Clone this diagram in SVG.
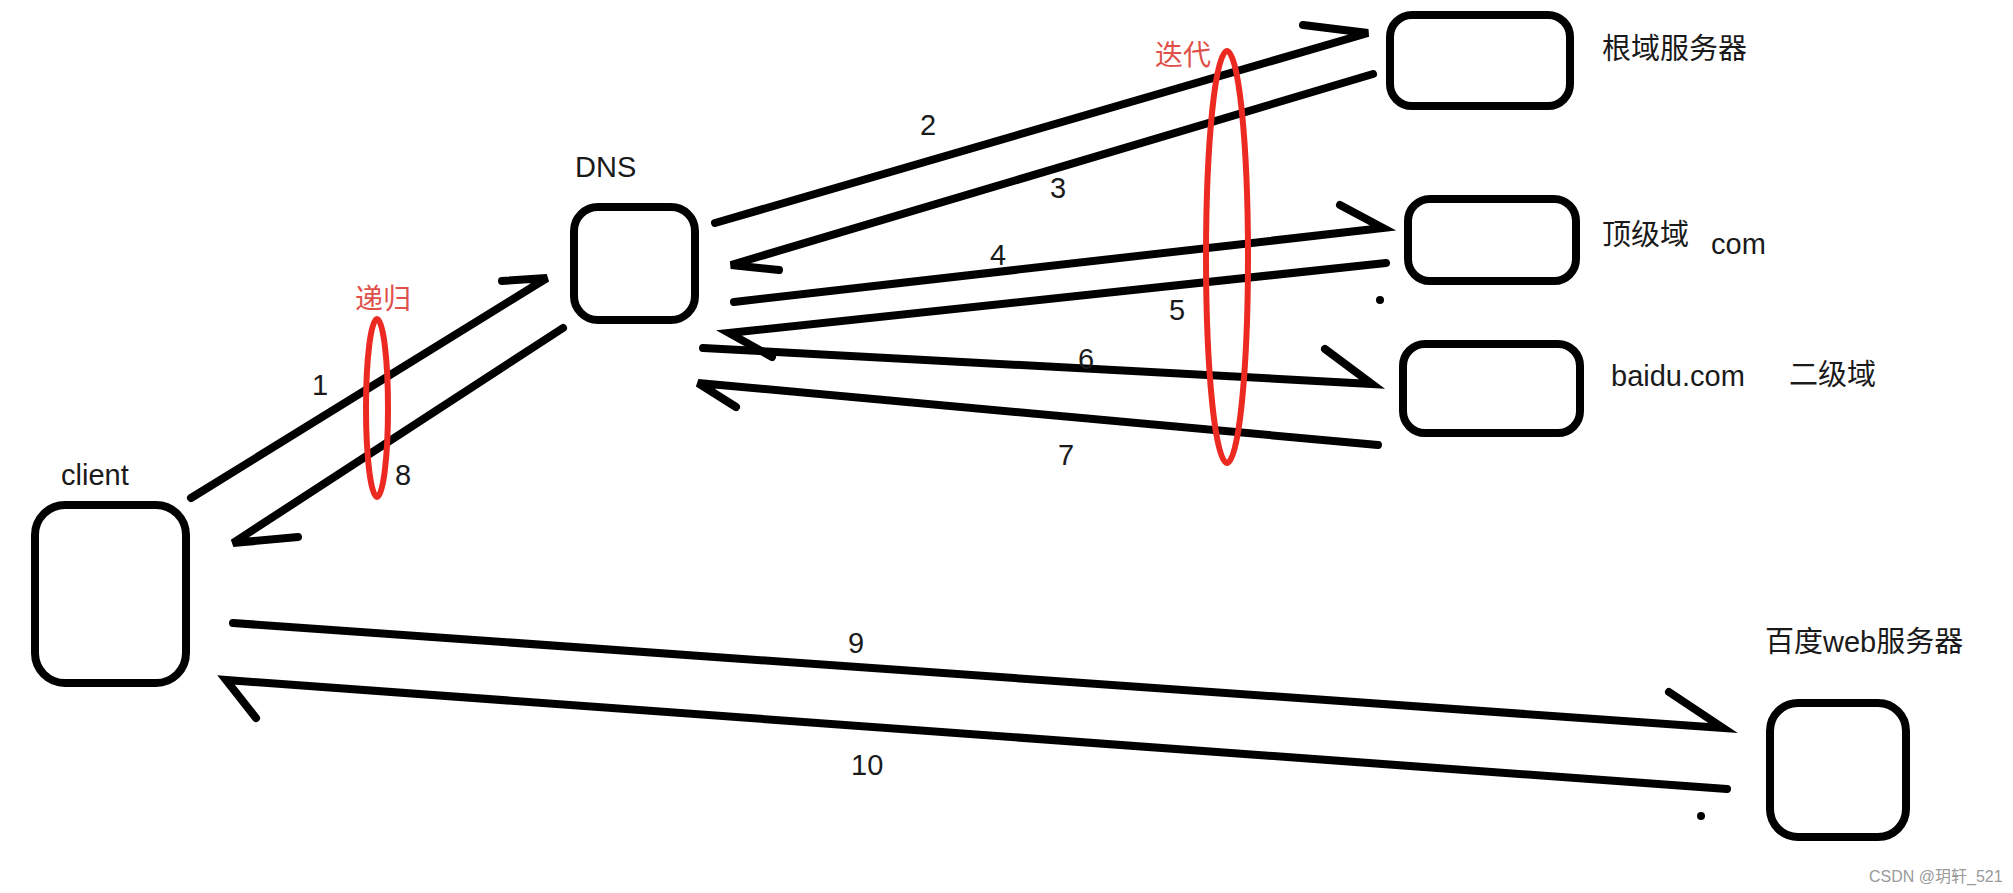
<svg xmlns="http://www.w3.org/2000/svg" width="2013" height="893" viewBox="0 0 2013 893">
<style>
.box{fill:none;stroke:#000;stroke-width:8}
.ln{fill:none;stroke:#000;stroke-width:8;stroke-linejoin:miter;stroke-linecap:round}
.t{font-family:"Liberation Sans","Noto Sans CJK SC",sans-serif;font-size:29px;fill:#1a1a1a}
.r{font-family:"Liberation Sans","Noto Sans CJK SC",sans-serif;font-size:28px;fill:#e0504a}
.ov{fill:none;stroke:#ec2a22;stroke-width:6}
.wm{font-family:"Liberation Sans","Noto Sans CJK SC",sans-serif;font-size:16px;fill:#9a9a9a}
</style>
<rect width="2013" height="893" fill="#fff"/>
<g id="client"><rect class="box" x="35" y="505" width="151" height="178" rx="30"/><text class="t" x="61" y="485">client</text></g>
<g id="dns"><rect class="box" x="574" y="207" width="121" height="113" rx="24"/><text class="t" x="575" y="177">DNS</text></g>
<g id="root"><rect class="box" x="1390" y="15" width="180" height="91" rx="22"/><text class="t" x="1602" y="59">根域服务器</text></g>
<g id="tld"><rect class="box" x="1408" y="199" width="168" height="82" rx="22"/><text class="t" x="1602" y="245">顶级域</text><text class="t" x="1711" y="254">com</text></g>
<g id="second"><rect class="box" x="1403" y="344" width="177" height="89" rx="22"/><text class="t" x="1611" y="386">baidu.com</text><text class="t" x="1789" y="385">二级域</text></g>
<g id="web"><rect class="box" x="1770" y="703" width="136" height="134" rx="28"/><text class="t" x="1765" y="652">百度web服务器</text></g>
<g id="connectors">
<polyline class="ln" points="191,498 547,278 502,281"/>
<polyline class="ln" points="563,328 233,543 298,537"/>
<polyline class="ln" points="715,223 1368,33 1303,25"/>
<polyline class="ln" points="1373,74 731,265 779,270"/>
<polyline class="ln" points="734,302 1383,228 1340,205"/>
<polyline class="ln" points="1386,263 729,333 772,357"/>
<polyline class="ln" points="703,348 1372,384 1325,349"/>
<polyline class="ln" points="1378,445 698,383 736,407"/>
<polyline class="ln" points="233,623 1723,728 1669,692"/>
<polyline class="ln" points="1727,789 226,680 256,718"/>
<circle cx="1380" cy="300" r="4" fill="#000"/>
<circle cx="1701" cy="816" r="4" fill="#000"/>
<text class="t" x="312" y="395">1</text>
<text class="t" x="920" y="135">2</text>
<text class="t" x="1050" y="198">3</text>
<text class="t" x="990" y="265">4</text>
<text class="t" x="1169" y="320">5</text>
<text class="t" x="1078" y="369">6</text>
<text class="t" x="1058" y="465">7</text>
<text class="t" x="395" y="485">8</text>
<text class="t" x="848" y="653">9</text>
<text class="t" x="851" y="775">10</text>
</g>
<g id="recursion"><ellipse class="ov" cx="377" cy="408" rx="11" ry="89"/><text class="r" x="355" y="309">递归</text></g>
<g id="iteration"><ellipse class="ov" cx="1227" cy="257" rx="21" ry="206"/><text class="r" x="1155" y="65">迭代</text></g>
<text class="wm" x="1869" y="882">CSDN @玥轩_521</text>
</svg>
